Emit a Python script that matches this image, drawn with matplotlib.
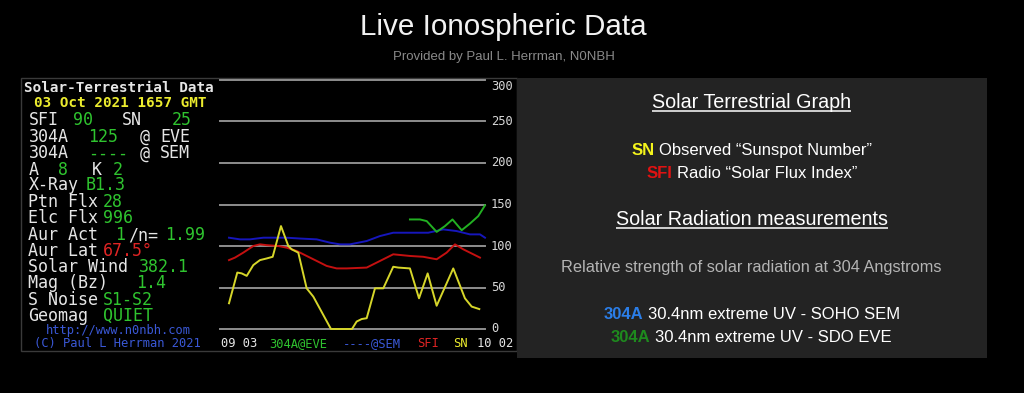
import matplotlib
matplotlib.use("Agg")
import matplotlib.pyplot as plt
from matplotlib.patches import Rectangle
from matplotlib.transforms import blended_transform_factory

# ---------------- data ----------------
sn_day = [0, 0.96, 1.47, 2.05, 2.81, 3.58, 4.36, 5.05, 6.01, 6.86, 7.25, 8.01, 8.98, 9.75,
          10.9, 11.79, 14.22, 14.76, 15.34, 15.92, 16.88, 17.84, 18.99, 19.57, 20.92, 21.97,
          22.97, 24.01, 25.93, 27.28, 28.06, 28.94]
sn_val = [31, 68, 67, 64, 77, 83, 85, 87, 124, 100, 96, 92, 49, 39,
          17, 0, 0, 9, 12, 13, 49, 49, 75, 74, 73, 37,
          67, 28, 73, 37, 27, 24]

sfi_day = [0, 0.69, 1.65, 2.81, 3.58, 4.36, 5.7, 6.67, 7.83, 8.98, 10.14, 11.29, 12.45, 13.61,
           15.92, 17.46, 18.99, 20.92, 22.46, 24.01, 25.16, 26.13, 27.09, 29.02]
sfi_val = [83, 86, 92, 100, 102, 101, 100, 98, 94, 88, 82, 76, 73, 73,
           74, 82, 90, 88, 87, 84, 92, 102, 96, 86]

sem_day = [0, 1.27, 2.43, 3.97, 5.51, 6.67, 8.21, 10.14, 11.68, 12.83, 13.99, 15.92, 17.46,
           18.99, 20.92, 23.04, 24.77, 26.32, 27.86, 29.02, 29.6]
sem_val = [110, 108, 108, 110, 110, 110, 109, 108, 104, 102, 102, 106, 112,
           116, 116, 116, 120, 118, 114, 114, 110]

eve_day = [20.92, 22.08, 22.86, 24.01, 24.97, 25.84, 26.9, 27.86, 28.82, 29.6]
eve_val = [132, 132, 130, 117, 124, 132, 119, 127, 136, 149]

y_ticks = [0, 50, 100, 150, 200, 250, 300]
x_start_label = "09 03"
x_end_label = "10 02"

# ---------------- figure ----------------
W, H = 1024, 393
fig = plt.figure(figsize=(W / 100, H / 100), dpi=100, facecolor="black")

ov = fig.add_axes([0, 0, 1, 1], zorder=0)
ov.set_xlim(0, W)
ov.set_ylim(H, 0)
ov.axis("off")
ov.set_facecolor("none")

# panels
ov.add_patch(Rectangle((21, 78), 496, 273, fill=False, edgecolor="#3a3a3a", lw=1))
ov.add_patch(Rectangle((517, 78), 470, 280, facecolor="#232323", edgecolor="none"))

# ---------------- chart ----------------
ax = fig.add_axes([220 / W, (H - 329) / H, 265 / W, 249 / H], zorder=2)
ax.set_facecolor("none")
ax.set_xlim(-1.04, 29.6)
ax.set_ylim(0, 300)
ax.axis("off")
lab_tr = blended_transform_factory(ax.transAxes, ax.transData)
for v in y_ticks:
    ax.axhline(v, color="#8e8e8e", lw=1.4, clip_on=False, zorder=1)
    ax.text(1.0 + 6 / 265, v - (8 if v == y_ticks[-1] else 0), str(v), transform=lab_tr,
            color="#d8d8d8", fontsize=8.7, family="DejaVu Sans Mono",
            ha="left", va="center", clip_on=False)

ax.plot(sem_day, sem_val, color="#1616bc", lw=1.4, zorder=3, clip_on=False)
ax.plot(sfi_day, sfi_val, color="#c41010", lw=1.4, zorder=3, clip_on=False)
ax.plot(eve_day, eve_val, color="#22b022", lw=1.4, zorder=3, clip_on=False)
ax.plot(sn_day, sn_val, color="#d6d62a", lw=1.4, zorder=4, clip_on=False)

# ---------------- left panel text ----------------
MONO = "DejaVu Sans Mono"
WH = "#e6e6e6"
GR = "#2fc42f"
YE = "#ecec2e"
RD = "#e02424"
BL = "#3a58d6"


def seg(x, y, s, color, size=12, weight="normal"):
    ov.text(x, y, s, color=color, fontsize=size, fontweight=weight, family=MONO,
            va="baseline", ha="left", zorder=5)


seg(24, 91.7, "Solar-Terrestrial Data", WH, 10.3, "bold")
seg(34, 107.3, "03 Oct 2021 1657 GMT", YE, 10.3, "bold")

rows = [
    (125, [(28.5, "SFI", WH), (73, "90", GR), (121.5, "SN", WH), (171.5, "25", GR)]),
    (141.7, [(28.5, "304A", WH), (88, "125", GR), (140, "@", WH), (160, "EVE", WH)]),
    (158.3, [(28.5, "304A", WH), (88, "----", GR), (140, "@", WH), (160, "SEM", WH)]),
    (175, [(28.5, "A", WH), (58, "8", GR), (91.5, "K", WH), (113, "2", GR)]),
    (190.5, [(28.5, "X-Ray", WH), (86, "B1.3", GR)]),
    (206.8, [(28.5, "Ptn Flx", WH), (103, "28", GR)]),
    (223.3, [(28.5, "Elc Flx", WH), (103, "996", GR)]),
    (240, [(28.5, "Aur Act", WH), (115, "1", GR), (128, "/n=", WH), (165, "1.99", GR)]),
    (255.7, [(28.5, "Aur Lat", WH), (102.5, "67.5°", RD)]),
    (272.3, [(28.5, "Solar Wind", WH), (139, "382.1", GR)]),
    (288.3, [(28.5, "Mag (Bz)", WH), (136.5, "1.4", GR)]),
    (305, [(28.5, "S Noise", WH), (103, "S1-S2", GR)]),
    (321, [(28.5, "Geomag", WH), (103, "QUIET", GR)]),
]
for y, segs in rows:
    for x, s, c in segs:
        seg(x, y, s, c)

seg(46, 334, "http://www.n0nbh.com", BL, 8.7)
seg(34.5, 346.7, "(C) Paul L Herrman 2021", BL, 8.7)

seg(221, 346.7, x_start_label, WH, 8.7)
seg(269, 346.7, "304A@EVE", GR, 8.7)
seg(343, 346.7, "----@SEM", BL, 8.7)
seg(417, 346.7, "SFI", RD, 8.7)
seg(453, 346.7, "SN", YE, 8.7)
seg(477, 346.7, x_end_label, WH, 8.7)

# ---------------- header ----------------
SANS = "Liberation Sans"
ov.text(503, 35, "Live Ionospheric Data", color="#f2f2f2", fontsize=21.3, family=SANS,
        ha="center", va="baseline")
ov.text(504, 60, "Provided by Paul L. Herrman, N0NBH", color="#8a8a8a", fontsize=9.5,
        family=SANS, ha="center", va="baseline")

# ---------------- right panel ----------------
fig.canvas.draw()
renderer = fig.canvas.get_renderer()


def rich(y, segments, size, cx=751.5, underline=False):
    texts, widths = [], []
    gap = 0.278 * size * 100 / 72
    for s, color, weight in segments:
        t = ov.text(0, y, s, color=color, fontsize=size, fontweight=weight, family=SANS,
                    va="baseline", ha="left", zorder=5)
        w = t.get_window_extent(renderer).width
        texts.append(t)
        widths.append(w)
    total = sum(widths) + gap * (len(segments) - 1)
    x = cx - total / 2
    x0 = x
    for t, w in zip(texts, widths):
        t.set_x(x)
        x += w + gap
    if underline:
        ov.plot([x0, x0 + total], [y + 2.6, y + 2.6], color=segments[0][1], lw=1.1,
                solid_capstyle="butt", zorder=5)


rich(108.3, [("Solar Terrestrial Graph", "#ffffff", "normal")], 14.2, underline=True)
rich(155, [("SN", "#f4f41c", "bold"), ("Observed “Sunspot Number”", "#ffffff", "normal")], 12)
rich(178.3, [("SFI", "#e01212", "bold"), ("Radio “Solar Flux Index”", "#ffffff", "normal")], 12)
rich(225, [("Solar Radiation measurements", "#ffffff", "normal")], 14.2, underline=True)
rich(272.3, [("Relative strength of solar radiation at 304 Angstroms", "#b4b4b4", "normal")], 11.8)
rich(319, [("304A", "#2b7ee8", "bold"), ("30.4nm extreme UV - SOHO SEM", "#ffffff", "normal")], 12)
rich(341.7, [("304A", "#1e8a1e", "bold"), ("30.4nm extreme UV - SDO EVE", "#ffffff", "normal")], 12)

fig.savefig("out.png", dpi=100, facecolor="black")
